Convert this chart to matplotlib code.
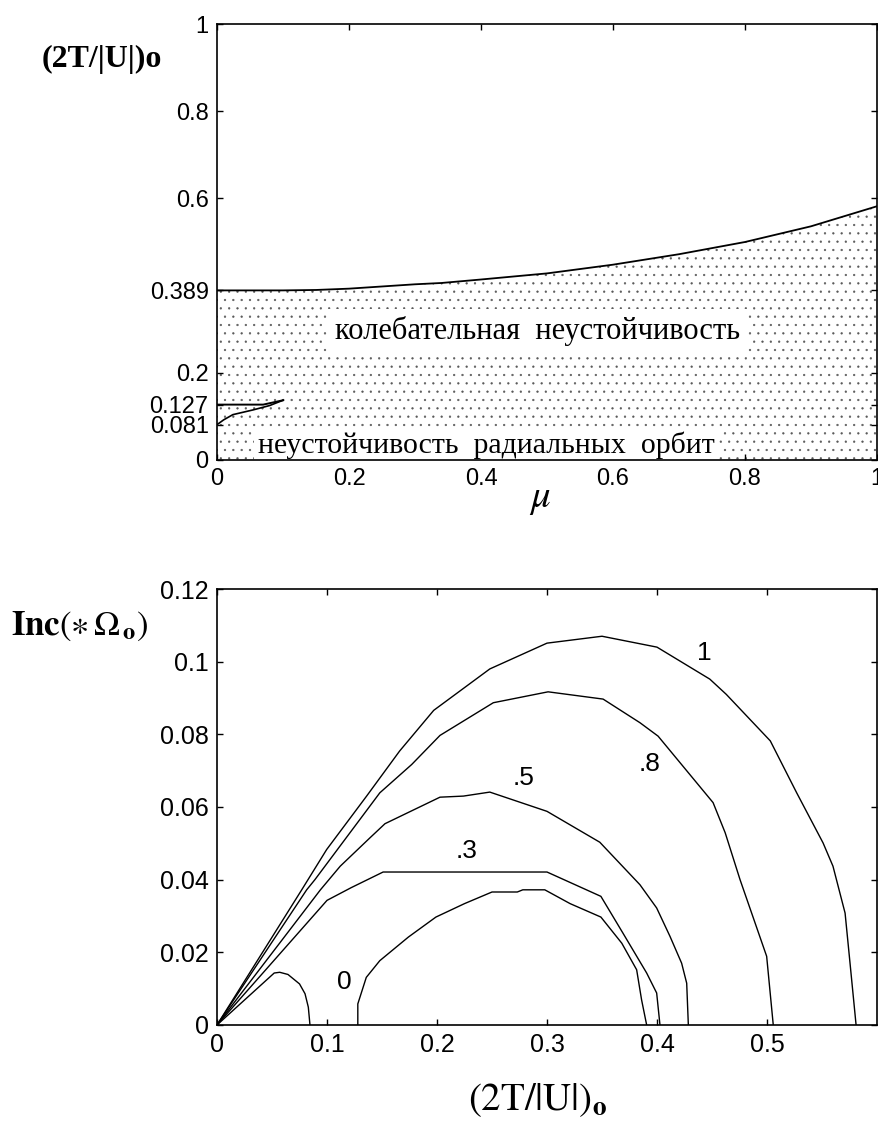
import matplotlib
matplotlib.use('Agg')
import matplotlib.pyplot as plt
import numpy as np

# ---------------- data: top panel ----------------
mu_vals = [0, 0.1, 0.15, 0.2, 0.25, 0.3, 0.34, 0.4, 0.5, 0.6, 0.7, 0.8, 0.9, 1.0]
boundary_vals = [0.389, 0.389, 0.390, 0.393, 0.398, 0.403, 0.406, 0.414,
                 0.428, 0.448, 0.472, 0.500, 0.536, 0.582]
radial_mu = [0, 0.01, 0.024, 0.055, 0.08, 0.1]
radial_vals = [0.081, 0.092, 0.104, 0.115, 0.125, 0.137]
flat_mu = [0, 0.07, 0.1]
flat_vals = [0.127, 0.127, 0.137]
top_yticks = [0, 0.081, 0.127, 0.2, 0.389, 0.6, 0.8, 1]
top_yticklabels = ['0', '0.081', '0.127', '0.2', '0.389', '0.6', '0.8', '1']
top_xticks = [0, 0.2, 0.4, 0.6, 0.8, 1]
top_xticklabels = ['0', '0.2', '0.4', '0.6', '0.8', '1']
region_labels = ['колебательная  неустойчивость', 'неустойчивость  радиальных  орбит']

# ---------------- data: bottom panel ----------------
c1_x = [0, 0.077, 0.0997, 0.136, 0.166, 0.197, 0.248, 0.30, 0.35, 0.40, 0.448, 0.463,
        0.503, 0.527, 0.551, 0.560, 0.571, 0.5755, 0.581]
c1_y = [0, 0.0372, 0.0483, 0.063, 0.0754, 0.0866, 0.098, 0.1051, 0.107, 0.104, 0.0952,
        0.091, 0.0782, 0.0639, 0.0501, 0.0437, 0.0308, 0.017, 0]
c08_x = [0, 0.0815, 0.089, 0.148, 0.177, 0.2027, 0.2512, 0.301, 0.351, 0.3845, 0.401,
         0.451, 0.462, 0.4755, 0.4997, 0.5057]
c08_y = [0, 0.0372, 0.040, 0.0639, 0.0717, 0.0797, 0.0887, 0.0917, 0.0897, 0.0832,
         0.0795, 0.0612, 0.0529, 0.040, 0.0189, 0]
c05_x = [0, 0.094, 0.112, 0.139, 0.1527, 0.2027, 0.224, 0.248, 0.30, 0.348, 0.3845,
         0.3997, 0.4118, 0.4224, 0.427, 0.4285]
c05_y = [0, 0.0372, 0.0437, 0.0515, 0.0554, 0.0627, 0.063, 0.0641, 0.0588, 0.0503,
         0.0386, 0.0322, 0.0244, 0.017, 0.0115, 0]
c03_x = [0, 0.1, 0.122, 0.151, 0.30, 0.349, 0.369, 0.3906, 0.3997, 0.4027]
c03_y = [0, 0.0343, 0.0378, 0.0421, 0.0421, 0.0354, 0.0253, 0.0143, 0.0088, 0]
c0a_x = [0, 0.052, 0.057, 0.0645, 0.075, 0.080, 0.083, 0.0845]
c0a_y = [0, 0.0143, 0.0145, 0.0139, 0.0113, 0.0086, 0.0049, 0]
c0b_x = [0.128, 0.128, 0.1357, 0.148, 0.174, 0.199, 0.225, 0.25, 0.273, 0.278, 0.298,
         0.321, 0.349, 0.368, 0.3815, 0.386, 0.3906]
c0b_y = [0, 0.0058, 0.0131, 0.0177, 0.0242, 0.0297, 0.0334, 0.0366, 0.0366, 0.0372,
         0.0372, 0.0334, 0.0297, 0.0225, 0.0152, 0.0069, 0]
curve_labels = ['1', '.8', '.5', '.3', '0']
label_x = [0.443, 0.3936, 0.2785, 0.227, 0.1153]
label_y = [0.1025, 0.0717, 0.068, 0.0478, 0.0118]
bot_xticks = [0, 0.1, 0.2, 0.3, 0.4, 0.5]
bot_xticklabels = ['0', '0.1', '0.2', '0.3', '0.4', '0.5']
bot_yticks = [0, 0.02, 0.04, 0.06, 0.08, 0.1, 0.12]
bot_yticklabels = ['0', '0.02', '0.04', '0.06', '0.08', '0.1', '0.12']

# ---------------- style ----------------
plt.rcParams['hatch.linewidth'] = 0.4
plt.rcParams['hatch.color'] = '0.35'
plt.rcParams['mathtext.fontset'] = 'stix'
SANS = 'Liberation Sans'
SERIF = 'Liberation Serif'

fig = plt.figure(figsize=(8.79, 11.23), dpi=100)


def style_axes(ax, size):
    for s in ax.spines.values():
        s.set_linewidth(1.2)
        s.set_zorder(5)
    ax.tick_params(direction='in', top=True, right=True, length=4, width=1,
                   labelsize=size, pad=6)
    for lab in ax.get_xticklabels() + ax.get_yticklabels():
        lab.set_fontfamily(SANS)


# ---------------- top panel ----------------
ax1 = fig.add_axes([0.2469, 0.5904, 0.7508, 0.3882])
ax1.fill_between(mu_vals, 0, boundary_vals, facecolor='white', edgecolor='0.35',
                 hatch='..', linewidth=0, zorder=1)
ax1.plot(mu_vals, boundary_vals, color='black', lw=1.3, zorder=2)
ax1.plot(radial_mu, radial_vals, color='black', lw=1.2, zorder=2)
ax1.plot(flat_mu, flat_vals, color='black', lw=1.4, zorder=2)
ax1.set_xlim(0, 1)
ax1.set_ylim(0, 1)
ax1.set_yticks(top_yticks)
ax1.set_yticklabels(top_yticklabels)
ax1.set_xticks(top_xticks)
ax1.set_xticklabels(top_xticklabels)
style_axes(ax1, 17)
ax1.text(0.485, 0.296, region_labels[0], ha='center', va='center', fontsize=22,
         family=SERIF, zorder=3,
         bbox=dict(facecolor='white', edgecolor='none', pad=5))
ax1.text(0.408, 0.033, region_labels[1], ha='center', va='center', fontsize=21.5,
         family=SERIF, zorder=3,
         bbox=dict(facecolor='white', edgecolor='none', pad=3))
fig.text(0.116, 0.9475, '(2T/|U|)o', ha='center', va='center', fontsize=23,
         family=SERIF, weight='bold')
fig.text(0.614, 0.5565, r'$\mu$', ha='center', va='center', fontsize=28)

# ---------------- bottom panel ----------------
ax2 = fig.add_axes([0.2469, 0.0873, 0.7508, 0.3882])
for xs, ys in [(c1_x, c1_y), (c08_x, c08_y), (c05_x, c05_y), (c03_x, c03_y),
               (c0a_x, c0a_y), (c0b_x, c0b_y)]:
    ax2.plot(xs, ys, color='black', lw=1.0)
for lab, lx, ly in zip(curve_labels, label_x, label_y):
    ax2.text(lx, ly, lab, ha='center', va='center', fontsize=19, family=SANS)
ax2.set_xlim(0, 0.6)
ax2.set_ylim(0, 0.12)
ax2.set_xticks(bot_xticks)
ax2.set_xticklabels(bot_xticklabels)
ax2.set_yticks(bot_yticks)
ax2.set_yticklabels(bot_yticklabels)
style_axes(ax2, 18)
fig.text(0.091, 0.4426, r'$\mathbf{Inc}(\ast\,\Omega_{\,\mathbf{o}})$', ha='center',
         va='center', fontsize=25)
fig.text(0.611, 0.0205, r'$(2\mathrm{T}/|\mathrm{U}|)_{\mathbf{o}}$', ha='center',
         va='center', fontsize=28)

fig.savefig('out.png', dpi=100)
